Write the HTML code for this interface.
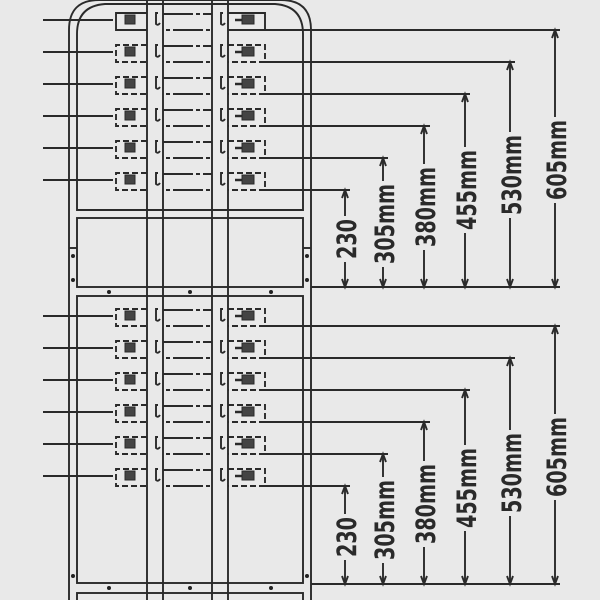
<!DOCTYPE html>
<html><head><meta charset="utf-8"><style>
html,body{margin:0;padding:0;background:#e9e9e9;}
svg{display:block}
text{font-family:"DejaVu Sans Condensed","Liberation Sans Narrow","Liberation Sans",sans-serif;font-weight:bold;fill:#2a2a2a}
</style></head><body>
<svg id="s" width="600" height="600" viewBox="0 0 600 600" xmlns="http://www.w3.org/2000/svg">
<rect width="600" height="600" fill="#e9e9e9"/>
<g id="g" stroke="#2a2a2a" stroke-width="1.9" fill="none"></g>
<g id="labels">
<text transform="translate(566,160) rotate(-90)" font-size="27" text-anchor="middle" textLength="80" lengthAdjust="spacingAndGlyphs">605mm</text>
<text transform="translate(521,175) rotate(-90)" font-size="27" text-anchor="middle" textLength="80" lengthAdjust="spacingAndGlyphs">530mm</text>
<text transform="translate(476,190) rotate(-90)" font-size="27" text-anchor="middle" textLength="80" lengthAdjust="spacingAndGlyphs">455mm</text>
<text transform="translate(435,207) rotate(-90)" font-size="27" text-anchor="middle" textLength="80" lengthAdjust="spacingAndGlyphs">380mm</text>
<text transform="translate(394,224) rotate(-90)" font-size="27" text-anchor="middle" textLength="80" lengthAdjust="spacingAndGlyphs">305mm</text>
<text transform="translate(356,239) rotate(-90)" font-size="27" text-anchor="middle" textLength="40" lengthAdjust="spacingAndGlyphs">230</text>
<text transform="translate(566,457) rotate(-90)" font-size="27" text-anchor="middle" textLength="80" lengthAdjust="spacingAndGlyphs">605mm</text>
<text transform="translate(521,473) rotate(-90)" font-size="27" text-anchor="middle" textLength="80" lengthAdjust="spacingAndGlyphs">530mm</text>
<text transform="translate(476,488) rotate(-90)" font-size="27" text-anchor="middle" textLength="80" lengthAdjust="spacingAndGlyphs">455mm</text>
<text transform="translate(435,504) rotate(-90)" font-size="27" text-anchor="middle" textLength="80" lengthAdjust="spacingAndGlyphs">380mm</text>
<text transform="translate(394,520) rotate(-90)" font-size="27" text-anchor="middle" textLength="80" lengthAdjust="spacingAndGlyphs">305mm</text>
<text transform="translate(356,537) rotate(-90)" font-size="27" text-anchor="middle" textLength="40" lengthAdjust="spacingAndGlyphs">230</text>
</g>
</svg>
<script>
var g=document.getElementById('g'),NS='http://www.w3.org/2000/svg';
function el(t,a){var e=document.createElementNS(NS,t);for(var k in a)e.setAttribute(k,a[k]);g.appendChild(e);return e;}
function L(x1,y1,x2,y2,extra){var a={x1:x1,y1:y1,x2:x2,y2:y2};if(extra)for(var k in extra)a[k]=extra[k];return el('line',a);}
function P(d,extra){var a={d:d};if(extra)for(var k in extra)a[k]=extra[k];return el('path',a);}
P('M69,600 L69,30 Q69,0 99,0 L281,0 Q311,0 311,30 L311,600');
P('M77,210 L77,34 Q77,6 105,4 L275,4 Q303,6 303,34 L303,210 Z');
[147,163,212,228].forEach(function(x){L(x,0,x,600);});
function section(o,first){
  var rows=[20,52,84,116,148,180].map(function(y){return y+o;});
  rows.forEach(function(y,i){
    L(43,y,113,y);
    var dash=(first&&i==0)?null:{'stroke-dasharray':'6,3'};
    P('M147,'+(y-7)+' L116,'+(y-7)+' L116,'+(y+10)+' L147,'+(y+10),dash);
    el('rect',{x:125,y:y-5,width:10,height:9,fill:'#444','stroke-width':1});
    P('M228,'+(y-7)+' L265,'+(y-7)+' L265,'+(y+10)+' L228,'+(y+10),dash);
    el('rect',{x:242,y:y-5,width:12,height:9,fill:'#444','stroke-width':1});
    L(235,y,242,y,{'stroke-width':2.5});
    L(163,y-6,212,y-6,{'stroke-dasharray':'30,3,4,3'});
    L(166,y+10,212,y+10,{'stroke-dasharray':'4,3,30,3'});
    P('M158,'+(y-7)+' L156,'+(y-7)+' L156,'+(y+4)+' Q158,'+(y+6)+' 160,'+(y+3));
    P('M223,'+(y-7)+' L221,'+(y-7)+' L221,'+(y+4)+' Q223,'+(y+6)+' 225,'+(y+3));
  });
  var bot=first?o+287:o+288;
  var ends=[[560,555],[515,510],[470,465],[430,424],[388,383],[350,345]];
  ends.forEach(function(e,i){
    var y=rows[i]+10;
    L(265,y,e[0],y);
    L(e[1],y,e[1],bot);
    P('M'+(e[1]-3)+','+(y+8)+' L'+e[1]+','+y+' L'+(e[1]+3)+','+(y+8));
    P('M'+(e[1]-3)+','+(bot-8)+' L'+e[1]+','+bot+' L'+(e[1]+3)+','+(bot-8));
  });
  L(311,bot,560,bot);
}
section(0,true);
section(296,false);
el('rect',{x:77,y:218,width:226,height:69});
L(69,248,77,248);L(303,248,311,248);
[[109,292],[190,292],[271,292],[73,280],[307,280],[73,256],[307,256]].forEach(function(p){el('circle',{cx:p[0],cy:p[1],r:2,fill:'#222',stroke:'none'});});
el('rect',{x:77,y:296,width:226,height:287});
[[109,588],[190,588],[271,588],[73,576],[307,576]].forEach(function(p){el('circle',{cx:p[0],cy:p[1],r:2,fill:'#222',stroke:'none'});});
el('rect',{x:77,y:593,width:226,height:20});
var s=document.getElementById('s');
var lab=document.getElementById('labels');
[[555,160,80],[510,175,80],[465,190,80],[424,207,80],[383,224,80],[345,239,40],
 [555,457,80],[510,473,80],[465,488,80],[424,504,80],[383,520,80],[345,537,40]].forEach(function(a){
  var r=document.createElementNS(NS,'rect');
  r.setAttribute('x',a[0]-4);r.setAttribute('y',a[1]-a[2]/2-3);r.setAttribute('width',8);r.setAttribute('height',a[2]+6);r.setAttribute('fill','#e9e9e9');
  s.insertBefore(r,lab);
});
</script>
</body></html>
